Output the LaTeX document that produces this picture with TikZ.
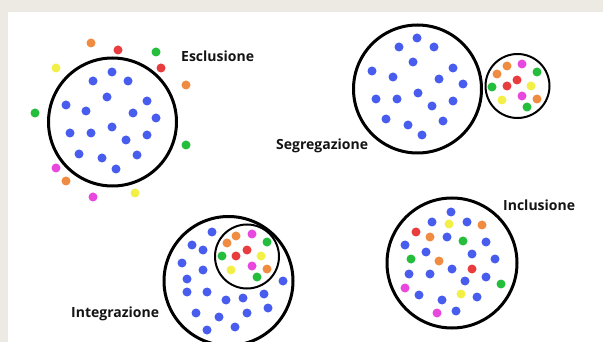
\documentclass[tikz,border=0pt]{standalone}
\usepackage{fontspec}
\setmainfont{Open Sans}

\definecolor{dotblue}{RGB}{72,92,238}
\definecolor{dotorange}{RGB}{240,140,66}
\definecolor{dotred}{RGB}{232,60,62}
\definecolor{dotgreen}{RGB}{36,190,60}
\definecolor{dotyellow}{RGB}{242,240,70}
\definecolor{dotpink}{RGB}{232,72,222}
\definecolor{paper}{RGB}{236,234,227}

\tikzstyle{ring} = [draw=black, line width=3pt]
\tikzstyle{smallring} = [draw=black, line width=2pt]
\tikzstyle{title} = [anchor=west, inner sep=0pt, text=black!92, font=\bfseries\fontsize{14}{16}\selectfont]

\begin{document}
\begin{tikzpicture}[x=1pt, y=-1pt]
        % Frame
        \useasboundingbox (0,0) rectangle (603,342);
        \fill[paper] (0,0) rectangle (603,342);
        \fill[white] (8,12) rectangle (603,342);

        % Esclusione
        \coordinate (esc) at (112.5,122);
        \draw[ring] (esc) circle (64);
        \foreach \p in {(112,72),(93,81),(128,81),(107,97),(66,105),(86,111),(147,101),(133,113),(156,118),(70,133),(91,133),(112,127),(126,140),(147,135),(79,154),(102,158),(137,155),(116,169)}
            \fill[dotblue] \p circle (4.5);
        \foreach \p in {(91,43),(186,85),(66,181)} \fill[dotorange] \p circle (4.5);
        \foreach \p in {(118,50),(161,68)} \fill[dotred] \p circle (4.5);
        \foreach \p in {(156,52),(35,113),(186,145)} \fill[dotgreen] \p circle (4.5);
        \foreach \p in {(56,68),(135,193)} \fill[dotyellow] \p circle (4.5);
        \foreach \p in {(56,168),(93,197)} \fill[dotpink] \p circle (4.5);
        \node (esclusione) [title] at (181,56) {Esclusione};

        % Segregazione
        \coordinate (seg) at (417.5,89);
        \coordinate (segmin) at (517.5,86);
        \draw[ring] (seg) circle (64);
        \draw[smallring] (segmin) circle (32);
        \foreach \p in {(417,38),(399,47),(434,47),(413,62),(372,71),(393,77),(453,68),(439,79),(463,84),(376,99),(397,99),(418,93),(432,106),(453,101),(386,119),(408,125),(443,121),(422,135)}
            \fill[dotblue] \p circle (4.5);
        \foreach \p in {(507,66),(497,74),(537,99)} \fill[dotorange] \p circle (4.5);
        \foreach \p in {(522,64),(522,96)} \fill[dotpink] \p circle (4.5);
        \foreach \p in {(537,72),(492,87),(527,107)} \fill[dotgreen] \p circle (4.5);
        \foreach \p in {(517,80),(507,86)} \fill[dotred] \p circle (4.5);
        \foreach \p in {(531,86),(502,100)} \fill[dotyellow] \p circle (4.5);
        \node (segregazione) [title] at (276,146) {Segregazione};

        % Integrazione
        \coordinate (int) at (228.5,281);
        \coordinate (intmin) at (247,256.5);
        \draw[ring] (int) circle (64.5);
        \draw[smallring] (intmin) circle (32);
        \foreach \p in {(212,232),(192,245),(203,250),(182,263),(203,270),(187,279),(187,292),(207,292),(226,300),(243,298),(264,294),(283,281),(196,313),(219,317),(247,313),(268,308),(207,330),(235,327)}
            \fill[dotblue] \p circle (4.5);
        \foreach \p in {(236,236),(227,243),(267,269)} \fill[dotorange] \p circle (4.5);
        \foreach \p in {(252,234),(252,266)} \fill[dotpink] \p circle (4.5);
        \foreach \p in {(267,242),(222,256),(257,277)} \fill[dotgreen] \p circle (4.5);
        \foreach \p in {(247,250),(236,256)} \fill[dotred] \p circle (4.5);
        \foreach \p in {(261,256),(231,270)} \fill[dotyellow] \p circle (4.5);
        \node (integrazione) [title] at (71,314) {Integrazione};

        % Inclusione
        \coordinate (inc) at (452,263);
        \draw[ring] (inc) circle (65);
        \foreach \p in {(451,212),(432,222),(467,222),(447,237),(486,242),(405,245),(426,252),(472,254),(495,259),(452,269),(409,274),(430,274),(486,277),(465,281),(419,295),(477,297),(442,300),(456,311)}
            \fill[dotblue] \p circle (4.5);
        \foreach \p in {(449,224),(461,294)} \fill[dotyellow] \p circle (4.5);
        \foreach \p in {(482,225),(430,237),(439,261)} \fill[dotorange] \p circle (4.5);
        \foreach \p in {(416,232),(472,269)} \fill[dotred] \p circle (4.5);
        \foreach \p in {(463,241),(411,259),(501,284)} \fill[dotgreen] \p circle (4.5);
        \foreach \p in {(405,288),(437,313)} \fill[dotpink] \p circle (4.5);
        \node (inclusione) [title] at (503,205) {Inclusione};
    \end{tikzpicture}
\end{document}
